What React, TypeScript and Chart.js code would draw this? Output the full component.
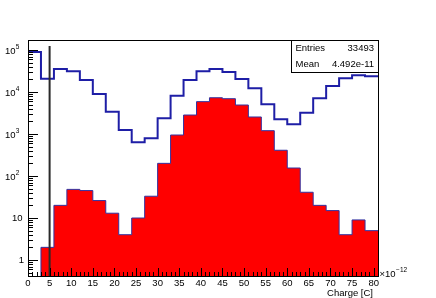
import React, { useEffect, useRef } from 'react';
import { Chart, registerables } from 'chart.js';

Chart.register(...registerables);

// Histogram binning (Charge in units of 1e-12 C)
const BIN_EDGES = [0, 3, 6, 9, 12, 15, 18, 21, 24, 27, 30, 33, 36, 39, 42, 45, 48, 51, 54, 57, 60, 63, 66, 69, 72, 75, 78, 81];
// Blue outline histogram (all hits)
const ALL_COUNTS = [90000, 20700, 35300, 31000, 19300, 8960, 3390, 1245, 640, 790, 2370, 8170, 19300, 31000, 35300, 30000, 20500, 12200, 5100, 2240, 1700, 3210, 7070, 13900, 21200, 25000, 23700];
// Red filled histogram (selected)
const SELECTED_COUNTS = [0, 2, 20, 48, 45, 26, 13, 4, 10, 33, 200, 946, 2830, 5890, 7300, 6930, 4900, 2540, 1200, 410, 155, 41, 20, 15, 4, 9, 5];

const X_MIN = 0;
const X_MAX = 81;
const Y_MIN = 0.416;
const Y_MAX = 1.73e5;

const X_TICK_LABELS = ['0', '5', '10', '15', '20', '25', '30', '35', '40', '45', '50', '55', '60', '65', '70', '75', '80'];
const X_TICK_VALUES = [0, 5, 10, 15, 20, 25, 30, 35, 40, 45, 50, 55, 60, 65, 70, 75, 80];
const Y_DECADES = [1, 10, 100, 1000, 10000, 100000];
const Y_DECADE_EXPONENTS = [0, 1, 2, 3, 4, 5];

const CUT_X = 5;
const CUT_TOP = 1.25e5;

const STAT_NAMES = ['Entries', 'Mean'];
const STAT_VALUES = ['33493', '4.492e-11'];

const X_TITLE = 'Charge [C]';
const X_EXPONENT = '-12';

const FONT = '"Liberation Sans", Arial, Helvetica, sans-serif';
const BLUE = '#1e1ea6';
const RED_OUTLINE = '#3232a0';

function histSteps(counts: number[]) {
  return BIN_EDGES.map((e, i) => {
    const c = counts[Math.min(i, counts.length - 1)];
    return { x: e, y: c > 0 ? c : Y_MIN / 10 };
  });
}

const rootAxesPlugin = {
  id: 'rootAxes',
  afterDraw(chart: any) {
    const ctx = chart.ctx as CanvasRenderingContext2D;
    const ca = chart.chartArea;
    const xs = chart.scales.x;
    const ys = chart.scales.y;
    ctx.save();
    ctx.strokeStyle = '#000';
    ctx.lineWidth = 1;

    // x ticks (major every 5, minor every 1)
    ctx.beginPath();
    for (let v = X_MIN; v <= X_MAX; v++) {
      const px = Math.round(xs.getPixelForValue(v)) + 0.5;
      const len = v % 5 === 0 ? 8 : 4;
      ctx.moveTo(px, ca.bottom);
      ctx.lineTo(px, ca.bottom - len);
    }
    // y ticks (log)
    const decs = [0.1, ...Y_DECADES];
    for (const d of decs) {
      for (let m = 1; m <= 9; m++) {
        const v = m * d;
        if (v < Y_MIN || v > Y_MAX) continue;
        const py = Math.round(ys.getPixelForValue(v)) + 0.5;
        const len = m === 1 ? 10 : 5;
        ctx.moveTo(ca.left, py);
        ctx.lineTo(ca.left + len, py);
      }
    }
    ctx.stroke();

    // frame
    ctx.strokeRect(ca.left + 0.5, ca.top + 0.5, ca.right - ca.left, ca.bottom - ca.top);

    ctx.fillStyle = '#000';
    // x labels
    ctx.font = `9.5px ${FONT}`;
    ctx.textAlign = 'center';
    ctx.textBaseline = 'middle';
    X_TICK_VALUES.forEach((v, i) => {
      ctx.fillText(X_TICK_LABELS[i], xs.getPixelForValue(v), ca.bottom + 7);
    });

    // y labels
    Y_DECADES.forEach((v, i) => {
      const py = ys.getPixelForValue(v);
      const e = Y_DECADE_EXPONENTS[i];
      if (e === 0) {
        ctx.font = `9.5px ${FONT}`;
        ctx.textAlign = 'right';
        ctx.fillText('1', ca.left - 4, py);
      } else if (e === 1) {
        ctx.font = `9.5px ${FONT}`;
        ctx.textAlign = 'right';
        ctx.fillText('10', ca.left - 5.5, py);
      } else {
        ctx.font = `9.5px ${FONT}`;
        ctx.textAlign = 'right';
        ctx.fillText('10', ca.left - 12.5, py + 1);
        ctx.font = `6.5px ${FONT}`;
        ctx.textAlign = 'left';
        ctx.fillText(String(e), ca.left - 12.2, py - 3);
      }
    });

    // exponent label at end of x axis
    ctx.font = `9.5px ${FONT}`;
    ctx.textAlign = 'left';
    ctx.fillText('\u00d710', ca.right + 1.5, ca.bottom - 2);
    const w = ctx.measureText('\u00d710').width;
    ctx.font = `6.5px ${FONT}`;
    ctx.fillText(X_EXPONENT.replace('-', '\u2212'), ca.right + 1.5 + w + 0.5, ca.bottom - 6);

    // x title
    ctx.font = `9.5px ${FONT}`;
    ctx.textAlign = 'right';
    ctx.fillText(X_TITLE, ca.right - 5, ca.bottom + 17);

    // stats box
    const bx = 291, by = ca.top, bw = ca.right - 291, bh = 32;
    ctx.fillStyle = '#fff';
    ctx.fillRect(bx, by, bw, bh);
    ctx.strokeStyle = '#000';
    ctx.strokeRect(bx + 0.5, by + 0.5, bw, bh);
    ctx.fillStyle = '#000';
    ctx.font = `9.5px ${FONT}`;
    STAT_NAMES.forEach((n, i) => {
      const ty = by + 8.5 + i * 15.5;
      ctx.textAlign = 'left';
      ctx.fillText(n, bx + 4.5, ty);
      ctx.textAlign = 'right';
      ctx.fillText(STAT_VALUES[i], ca.right - 4, ty);
    });
    ctx.restore();
  },
};

export default function App() {
  const ref = useRef<HTMLCanvasElement | null>(null);
  useEffect(() => {
    if (!ref.current) return;
    const chart = new Chart(ref.current, {
      type: 'line',
      data: {
        datasets: [
          {
            label: 'cut',
            data: [
              { x: CUT_X, y: CUT_TOP },
              { x: CUT_X, y: Y_MIN / 10 },
            ],
            borderColor: '#2a2a2a',
            borderWidth: 2,
            pointRadius: 0,
            fill: false,
          },
          {
            label: 'selected',
            data: histSteps(SELECTED_COUNTS),
            stepped: 'before',
            borderColor: RED_OUTLINE,
            borderWidth: 1,
            backgroundColor: '#ff0000',
            fill: 'start',
            pointRadius: 0,
          },
          {
            label: 'all',
            data: histSteps(ALL_COUNTS),
            stepped: 'before',
            borderColor: BLUE,
            borderWidth: 2,
            pointRadius: 0,
            fill: false,
          },
        ],
      },
      options: {
        responsive: false,
        animation: false,
        devicePixelRatio: 1,
        layout: { padding: { left: 28, top: 40, right: 58, bottom: 22 } },
        scales: {
          x: { type: 'linear', min: X_MIN, max: X_MAX, display: false },
          y: { type: 'logarithmic', min: Y_MIN, max: Y_MAX, display: false },
        },
        elements: { line: { tension: 0 } },
        plugins: { legend: { display: false }, tooltip: { enabled: false } },
      },
      plugins: [rootAxesPlugin],
    });
    return () => chart.destroy();
  }, []);
  return (
    <div style={{ position: 'absolute', left: 0, top: 0, width: 436, height: 298, background: '#fff' }}>
      <canvas ref={ref} width={436} height={298} style={{ width: 436, height: 298, display: 'block' }} />
    </div>
  );
}
